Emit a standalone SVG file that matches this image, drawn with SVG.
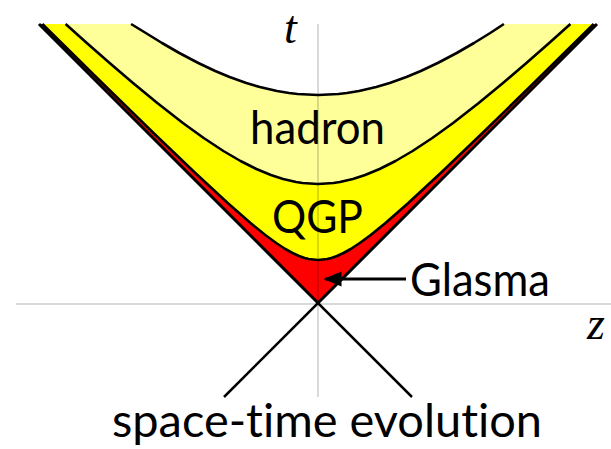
<svg xmlns="http://www.w3.org/2000/svg" width="611" height="449" viewBox="0 0 611 449">
<style>
.lbl{font-family:Lato,"Open Sans","Liberation Sans",sans-serif;font-size:46px;fill:#000;font-variant-ligatures:none}
.math{font-family:"Liberation Serif","DejaVu Serif",serif;font-style:italic;font-size:46px;fill:#000}
.hyp{fill:none;stroke:#000;stroke-width:2.6;stroke-linejoin:round}
.axis{stroke:#000;stroke-opacity:0.15;stroke-width:2;fill:none}
</style>
<defs>
<marker id="ah" markerWidth="6" markerHeight="6" refX="5.5" refY="2.5" orient="auto" markerUnits="strokeWidth" viewBox="0 0 6 5">
<path d="M0,0 L6,2.5 L0,5 Z" fill="#000"/>
</marker>
</defs>
<g id="regions">
<path id="glasma-region" d="M39,24 L318,303 L597,24 Z" fill="#ff0000"/>
<path id="qgp-region" d="M42.3,24 L102.2,83 L153.5,133 L195.3,173 L227.7,203 L250.5,223 L265.3,235 L276.2,243 L285.3,249 L292.5,253 L299,256 L304.7,258 L308.7,259 L318,260 L327.3,259 L331.3,258 L337,256 L343.5,253 L350.7,249 L359.8,243 L370.7,235 L385.5,223 L408.3,203 L440.7,173 L482.5,133 L533.8,83 L593.7,24 Z" fill="#ffff00"/>
<path id="hadron-region" d="M65.6,24 L86.8,43 L109.6,63 L133,83 L157.3,103 L182.9,123 L203.7,138 L223.4,151 L240.5,161 L256.4,169 L270.9,175 L283.1,179 L296.1,182 L302.5,183 L318,184 L333.5,183 L339.9,182 L352.9,179 L365.1,175 L379.6,169 L395.5,161 L412.6,151 L432.3,138 L453.1,123 L478.7,103 L503,83 L526.4,63 L549.2,43 L570.4,24 Z" fill="#ffff99"/>
<path id="after-region" d="M131.1,24 L145.8,33 L162,43 L179.3,53 L198.3,63 L215.2,71 L229.6,77 L246.3,83 L259.8,87 L277,91 L289.1,93 L297.6,94 L318,95 L338.4,94 L346.9,93 L359,91 L376.2,87 L389.7,83 L406.4,77 L420.8,71 L437.7,63 L456.7,53 L474,43 L490.2,33 L503.9,24 Z" fill="#ffffff"/>
</g>
<g id="axes">
<line class="axis" x1="16" y1="304" x2="611" y2="304"/>
<line class="axis" x1="318" y1="24" x2="318" y2="397"/>
</g>
<g id="connectors">
<path class="hyp" d="M42.3,24 L102.2,83 L153.5,133 L195.3,173 L227.7,203 L250.5,223 L265.3,235 L276.2,243 L285.3,249 L292.5,253 L299,256 L304.7,258 L308.7,259 L318,260 L327.3,259 L331.3,258 L337,256 L343.5,253 L350.7,249 L359.8,243 L370.7,235 L385.5,223 L408.3,203 L440.7,173 L482.5,133 L533.8,83 L593.7,24"/>
<path class="hyp" d="M65.6,24 L86.8,43 L109.6,63 L133,83 L157.3,103 L182.9,123 L203.7,138 L223.4,151 L240.5,161 L256.4,169 L270.9,175 L283.1,179 L296.1,182 L302.5,183 L318,184 L333.5,183 L339.9,182 L352.9,179 L365.1,175 L379.6,169 L395.5,161 L412.6,151 L432.3,138 L453.1,123 L478.7,103 L503,83 L526.4,63 L549.2,43 L570.4,24"/>
<path class="hyp" d="M131.1,24 L145.8,33 L162,43 L179.3,53 L198.3,63 L215.2,71 L229.6,77 L246.3,83 L259.8,87 L277,91 L289.1,93 L297.6,94 L318,95 L338.4,94 L346.9,93 L359,91 L376.2,87 L389.7,83 L406.4,77 L420.8,71 L437.7,63 L456.7,53 L474,43 L490.2,33 L503.9,24"/>
<path d="M39,24 L318,303 L597,24" fill="none" stroke="#000" stroke-width="3"/>
<path d="M224,397 L318,303 L412,397" fill="none" stroke="#000" stroke-width="2.5"/>
<line x1="406" y1="279" x2="325" y2="279" stroke="#000" stroke-width="3" marker-end="url(#ah)"/>
</g>
<g id="labels">
<text class="lbl" x="317.5" y="144" text-anchor="middle" textLength="135" lengthAdjust="spacingAndGlyphs">hadron</text>
<text class="lbl" x="317.5" y="233" text-anchor="middle" textLength="91" lengthAdjust="spacingAndGlyphs">QGP</text>
<text class="lbl" x="410" y="296" textLength="140" lengthAdjust="spacingAndGlyphs">Glasma</text>
<text class="lbl" x="112" y="437" textLength="430" lengthAdjust="spacingAndGlyphs">space-time evolution</text>
<text class="math" x="284" y="43">t</text>
<text class="math" x="587" y="339">z</text>
</g>
</svg>
